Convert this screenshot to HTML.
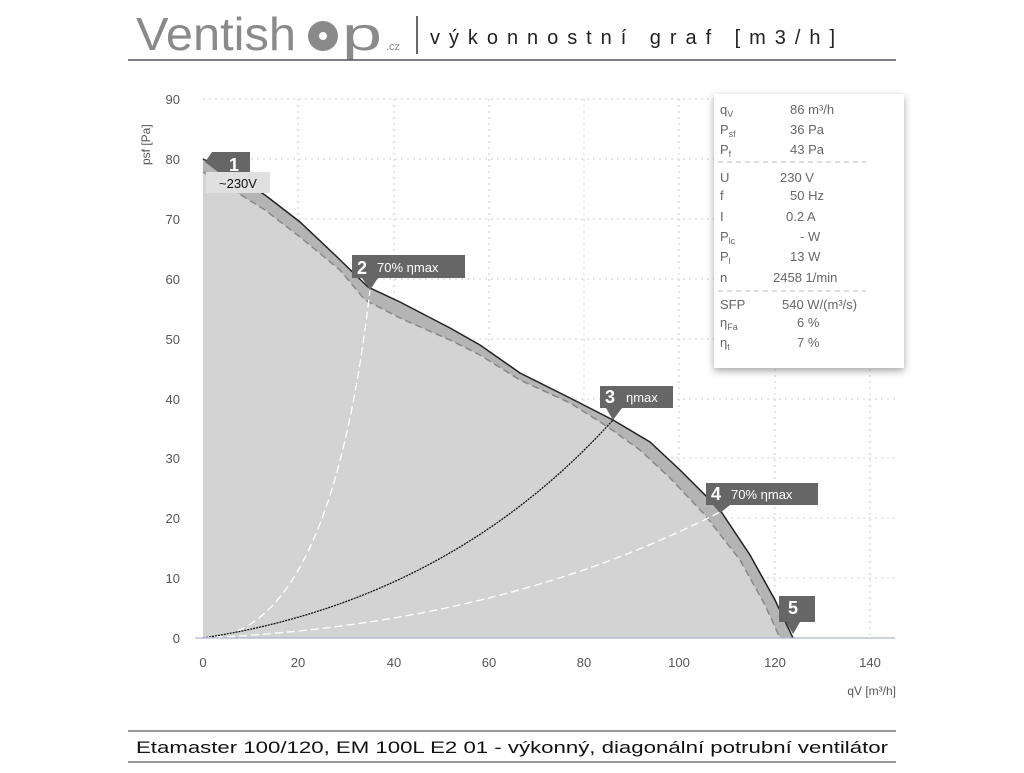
<!DOCTYPE html>
<html><head><meta charset="utf-8"><style>
body{margin:0;background:#fff;width:1024px;height:768px;overflow:hidden;font-family:"Liberation Sans","DejaVu Sans",sans-serif}
</style></head><body>
<svg width="1024" height="768" viewBox="0 0 1024 768" xmlns="http://www.w3.org/2000/svg" font-family="Liberation Sans, DejaVu Sans, sans-serif">
<text x="136" y="50" font-size="46" fill="#8a8a8a" textLength="160" lengthAdjust="spacingAndGlyphs">Ventish</text>
<circle cx="323" cy="36" r="15" fill="#8a8a8a"/>
<circle cx="323" cy="36" r="4" fill="#fff"/>
<text x="342" y="50" font-size="46" fill="#8a8a8a" textLength="40" lengthAdjust="spacingAndGlyphs">p</text>
<text x="386" y="50" font-size="11" fill="#8a8a8a">.cz</text>
<line x1="417" y1="16" x2="417" y2="54" stroke="#333" stroke-width="1.5"/>
<text x="430" y="44" font-size="20" fill="#222" textLength="405" lengthAdjust="spacing">výkonnostní graf [m3/h]</text>
<line x1="128" y1="60" x2="896" y2="60" stroke="#556" stroke-width="1.5"/>
<g stroke="#ccc" stroke-dasharray="2,4" stroke-width="1">
<line x1="298" y1="99" x2="298" y2="638"/><line x1="394" y1="99" x2="394" y2="638"/><line x1="489" y1="99" x2="489" y2="638"/><line x1="584" y1="99" x2="584" y2="638"/><line x1="679" y1="99" x2="679" y2="638"/><line x1="775" y1="99" x2="775" y2="638"/><line x1="870" y1="99" x2="870" y2="638"/>
<line x1="203" y1="578" x2="895" y2="578"/><line x1="203" y1="518" x2="895" y2="518"/><line x1="203" y1="458" x2="895" y2="458"/><line x1="203" y1="399" x2="895" y2="399"/><line x1="203" y1="339" x2="895" y2="339"/><line x1="203" y1="279" x2="895" y2="279"/><line x1="203" y1="219" x2="895" y2="219"/><line x1="203" y1="159" x2="895" y2="159"/><line x1="203" y1="99" x2="895" y2="99"/>
</g>
<path d="M203,159 L230,172 265,195 300,222 335,255 368,287 400,302 450,328 480,345 520,373 570,398 613,420 650,442 680,470 720,510 750,555 775,600 793,638 L203,638 Z" fill="#b4b4b4"/>
<path d="M203,172 L225,185 265,210 300,237 340,270 365,300 400,318 450,340 480,355 520,380 570,403 605,425 640,450 670,478 705,515 740,560 765,605 780,638 L203,638 Z" fill="#d3d3d3"/>
<path d="M203,172 L225,185 265,210 300,237 340,270 365,300 400,318 450,340 480,355 520,380 570,403 605,425 640,450 670,478 705,515 740,560 765,605 780,638" fill="none" stroke="#888" stroke-width="1.5" stroke-dasharray="7,4"/>
<path d="M203,159 L230,172 265,195 300,222 335,255 368,287 400,302 450,328 480,345 520,373 570,398 613,420 650,442 680,470 720,510 750,555 775,600 793,638" fill="none" stroke="#222" stroke-width="1.5"/>
<path d="M203,638 Q330,638 370,290" fill="none" stroke="#fff" stroke-width="1.3" stroke-dasharray="8,4"/>
<path d="M203,638 Q450,600 613,420" fill="none" stroke="#111" stroke-width="1.3" stroke-dasharray="2,1"/>
<path d="M203,638 Q500,625 720,512" fill="none" stroke="#fff" stroke-width="1.3" stroke-dasharray="8,4"/>
<line x1="195" y1="638" x2="895" y2="638" stroke="#a9b8d0" stroke-width="1.2"/>
<g font-size="13" fill="#555" text-anchor="end">
<text x="180" y="643">0</text><text x="180" y="583">10</text><text x="180" y="523">20</text><text x="180" y="463">30</text><text x="180" y="404">40</text><text x="180" y="344">50</text><text x="180" y="284">60</text><text x="180" y="224">70</text><text x="180" y="164">80</text><text x="180" y="104">90</text>
</g>
<g font-size="13" fill="#555" text-anchor="middle">
<text x="203" y="667">0</text><text x="298" y="667">20</text><text x="394" y="667">40</text><text x="489" y="667">60</text><text x="584" y="667">80</text><text x="679" y="667">100</text><text x="775" y="667">120</text><text x="870" y="667">140</text>
</g>
<text x="896" y="695" font-size="12" fill="#555" text-anchor="end">qV [m³/h]</text>
<text transform="translate(150,165) rotate(-90)" font-size="12" fill="#555">psf [Pa]</text>
<rect x="206" y="172" width="64" height="21" fill="#e0e0e0"/>
<text x="219" y="188" font-size="13" fill="#111">~230V</text>
<path d="M212,152 L250,152 250,172 218,172 205,162 Z" fill="#666"/>
<text x="229" y="171" font-size="18" font-weight="bold" fill="#fff">1</text>
<path d="M352,255 L465,255 465,278 378,278 370,290 362,278 352,278 Z" fill="#666"/>
<text x="357" y="274" font-size="18" font-weight="bold" fill="#fff">2</text><text x="377" y="272" font-size="13" fill="#fff">70% ηmax</text>
<path d="M600,386 L673,386 673,408 622,408 613,420 606,408 600,408 Z" fill="#666"/>
<text x="605" y="403" font-size="18" font-weight="bold" fill="#fff">3</text><text x="626" y="402" font-size="13" fill="#fff">ηmax</text>
<path d="M706,483 L818,483 818,505 730,505 720,513 713,505 706,505 Z" fill="#666"/>
<text x="711" y="500" font-size="18" font-weight="bold" fill="#fff">4</text><text x="731" y="499" font-size="13" fill="#fff">70% ηmax</text>
<path d="M779,596 L815,596 815,622 800,622 793,634 786,622 779,622 Z" fill="#666"/>
<text x="788" y="614" font-size="18" font-weight="bold" fill="#fff">5</text>
<rect x="714" y="94" width="190" height="274" fill="#fff" style="filter:drop-shadow(0 3px 4px rgba(0,0,0,0.35))"/>
<g font-size="13" fill="#666">
<text x="720" y="114">q<tspan font-size="9" dy="3">V</tspan></text><text x="790" y="114">86 m³/h</text>
<text x="720" y="134">P<tspan font-size="9" dy="3">sf</tspan></text><text x="790" y="134">36 Pa</text>
<text x="720" y="154">P<tspan font-size="9" dy="3">f</tspan></text><text x="790" y="154">43 Pa</text>
<text x="720" y="182">U</text><text x="780" y="182">230 V</text>
<text x="720" y="200">f</text><text x="790" y="200">50 Hz</text>
<text x="720" y="221">I</text><text x="786" y="221">0.2 A</text>
<text x="720" y="241">P<tspan font-size="9" dy="3">lc</tspan></text><text x="800" y="241">- W</text>
<text x="720" y="261">P<tspan font-size="9" dy="3">l</tspan></text><text x="790" y="261">13 W</text>
<text x="720" y="282">n</text><text x="773" y="282">2458 1/min</text>
<text x="720" y="309">SFP</text><text x="782" y="309">540 W/(m³/s)</text>
<text x="720" y="327">η<tspan font-size="9" dy="3">Fa</tspan></text><text x="797" y="327">6 %</text>
<text x="720" y="347">η<tspan font-size="9" dy="3">t</tspan></text><text x="797" y="347">7 %</text>
</g>
<g stroke="#bbb" stroke-dasharray="5,4"><line x1="718" y1="162" x2="866" y2="162"/><line x1="718" y1="291" x2="866" y2="291"/></g>
<line x1="128" y1="731" x2="896" y2="731" stroke="#333"/>
<text x="136" y="753" font-size="17" fill="#111" textLength="752" lengthAdjust="spacingAndGlyphs">Etamaster 100/120, EM 100L E2 01 - výkonný, diagonální potrubní ventilátor</text>
<line x1="128" y1="762" x2="896" y2="762" stroke="#333"/>
</svg>
</body></html>
